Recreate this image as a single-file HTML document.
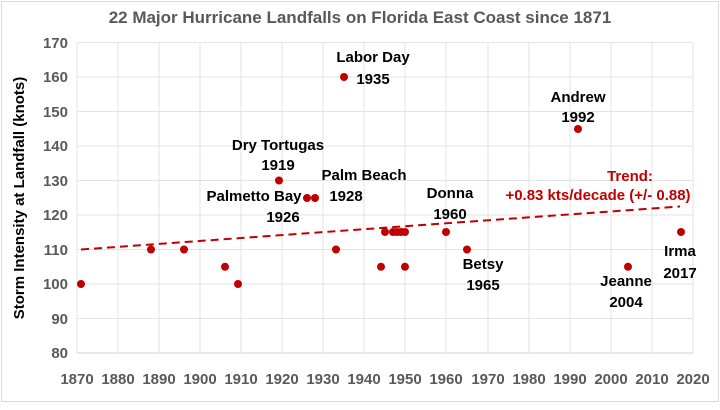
<!DOCTYPE html>
<html><head><style>
body{margin:0;background:#fff;}
svg text{font-family:"Liberation Sans",sans-serif;font-weight:bold;}
</style></head><body>
<svg width="720" height="405" xmlns="http://www.w3.org/2000/svg">
<rect x="1.5" y="1.5" width="717" height="400" fill="#fff" stroke="#d9d9d9" stroke-width="1"/>
<g id="grid" stroke="#e3e3e3" stroke-width="1">
<line x1="77" x2="693" y1="42.5" y2="42.5"/><line x1="77" x2="693" y1="77" y2="77"/><line x1="77" x2="693" y1="111.5" y2="111.5"/><line x1="77" x2="693" y1="146" y2="146"/><line x1="77" x2="693" y1="180.5" y2="180.5"/><line x1="77" x2="693" y1="215" y2="215"/><line x1="77" x2="693" y1="249.5" y2="249.5"/><line x1="77" x2="693" y1="284" y2="284"/><line x1="77" x2="693" y1="318.5" y2="318.5"/>
<line x1="77" x2="77" y1="42.5" y2="353"/><line x1="118" x2="118" y1="42.5" y2="353"/><line x1="159" x2="159" y1="42.5" y2="353"/><line x1="200" x2="200" y1="42.5" y2="353"/><line x1="241" x2="241" y1="42.5" y2="353"/><line x1="282" x2="282" y1="42.5" y2="353"/><line x1="323" x2="323" y1="42.5" y2="353"/><line x1="364" x2="364" y1="42.5" y2="353"/><line x1="405" x2="405" y1="42.5" y2="353"/><line x1="446" x2="446" y1="42.5" y2="353"/><line x1="488" x2="488" y1="42.5" y2="353"/><line x1="529" x2="529" y1="42.5" y2="353"/><line x1="570" x2="570" y1="42.5" y2="353"/><line x1="611" x2="611" y1="42.5" y2="353"/><line x1="652" x2="652" y1="42.5" y2="353"/><line x1="693" x2="693" y1="42.5" y2="353"/>
</g>
<line x1="77" x2="693" y1="353" y2="353" stroke="#d0d0d0"/>
<text x="360" y="23" text-anchor="middle" font-size="17" fill="#595959">22 Major Hurricane Landfalls on Florida East Coast since 1871</text>
<g font-size="15" fill="#595959" text-anchor="end">
<text x="68" y="48">170</text><text x="68" y="82">160</text><text x="68" y="117">150</text><text x="68" y="151">140</text><text x="68" y="186">130</text><text x="68" y="220">120</text><text x="68" y="255">110</text><text x="68" y="289">100</text><text x="68" y="324">90</text><text x="68" y="358">80</text>
</g>
<g font-size="15" fill="#595959" text-anchor="middle">
<text x="77" y="384">1870</text><text x="118" y="384">1880</text><text x="159" y="384">1890</text><text x="200" y="384">1900</text><text x="241" y="384">1910</text><text x="282" y="384">1920</text><text x="323" y="384">1930</text><text x="364" y="384">1940</text><text x="405" y="384">1950</text><text x="446" y="384">1960</text><text x="488" y="384">1970</text><text x="529" y="384">1980</text><text x="570" y="384">1990</text><text x="611" y="384">2000</text><text x="652" y="384">2010</text><text x="693" y="384">2020</text>
</g>
<text transform="translate(24,198) rotate(-90)" text-anchor="middle" font-size="15" fill="#000">Storm Intensity at Landfall (knots)</text>
<line x1="81" y1="249.5" x2="680" y2="206.5" stroke="#c00000" stroke-width="2" stroke-dasharray="8,5"/>
<g fill="#c00000">
<circle cx="81" cy="284" r="4"/><circle cx="151" cy="249.5" r="4"/><circle cx="184" cy="249.5" r="4"/><circle cx="225" cy="266.75" r="4"/><circle cx="238" cy="284" r="4"/><circle cx="279" cy="180.5" r="4"/><circle cx="307" cy="198" r="4"/><circle cx="315" cy="198" r="4"/><circle cx="336" cy="249.5" r="4"/><circle cx="344" cy="77" r="4"/><circle cx="381" cy="266.75" r="4"/><circle cx="385" cy="232" r="4"/><circle cx="393" cy="232" r="4"/><circle cx="397" cy="232" r="4"/><circle cx="401" cy="232" r="4"/><circle cx="405" cy="232" r="4"/><circle cx="405" cy="266.75" r="4"/><circle cx="446" cy="232" r="4"/><circle cx="467" cy="249.5" r="4"/><circle cx="578" cy="129" r="4"/><circle cx="628" cy="266.75" r="4"/><circle cx="681" cy="232" r="4"/>
</g>
<g font-size="15" fill="#000" text-anchor="middle">
<text x="373" y="62">Labor Day</text><text x="373" y="84">1935</text>
<text x="578" y="102">Andrew</text><text x="578" y="122">1992</text>
<text x="278" y="150">Dry Tortugas</text><text x="278" y="170">1919</text>
<text x="364" y="180">Palm Beach</text><text x="346" y="201">1928</text>
<text x="254" y="201">Palmetto Bay</text><text x="283" y="222">1926</text>
<text x="450" y="198">Donna</text><text x="450" y="219">1960</text>
<text x="483" y="269">Betsy</text><text x="483" y="290">1965</text>
<text x="626" y="286">Jeanne</text><text x="626" y="307">2004</text>
<text x="680" y="256">Irma</text><text x="680" y="278">2017</text>
</g>
<g font-size="15" fill="#c00000" text-anchor="middle">
<text x="630" y="181">Trend:</text><text x="598" y="200">+0.83 kts/decade (+/- 0.88)</text>
</g>
</svg>
</body></html>
